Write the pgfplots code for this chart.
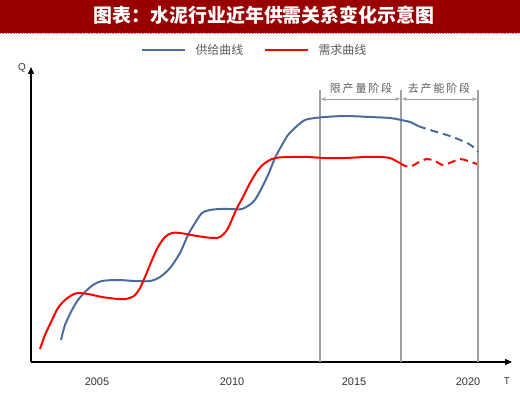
\documentclass[border=0pt]{standalone}
\usepackage{pgfplots}
\pgfplotsset{compat=1.18}
\usepackage{fontspec}
\setmainfont{Liberation Sans}
\newfontfamily\cjk{Noto Sans CJK SC}
\usetikzlibrary{arrows.meta}
\definecolor{banner}{RGB}{153,0,0}
\definecolor{supply}{RGB}{74,108,156}
\definecolor{demand}{RGB}{255,0,0}
\definecolor{vgrey}{RGB}{160,160,160}
\definecolor{txtgrey}{RGB}{90,90,90}
\begin{document}
\begin{tikzpicture}
\useasboundingbox (-31bp,-31bp) rectangle (489bp,362bp);
\begin{axis}[
  width=481bp, height=295bp, scale only axis,
  xmin=31, xmax=512, ymin=31, ymax=326,
  axis lines=left,
  axis line style={line width=1.4pt, -{Triangle[length=7bp,width=6bp]}},
  xtick={97,232,354,468},
  xticklabels={2005,2010,2015,2020},
  ytick=\empty,
  major tick length=0pt,
  /pgf/number format/assume math mode=true,
  xticklabel style={anchor=center, yshift=-20bp, font=\fontsize{11}{13}\selectfont, text=black!80},
  clip=false,
]
% banner
\fill[banner] (axis cs:0,393) rectangle (axis cs:520,360);
\draw[supply!70, densely dotted, line width=0.6pt] (axis cs:0,360) -- (axis cs:520,360);
\node[text=white, font=\cjk\bfseries\fontsize{19}{22}\selectfont] at (axis cs:264,378) {图表：水泥行业近年供需关系变化示意图};
% legend
\draw[supply, line width=2pt] (axis cs:142,343) -- (axis cs:185,343);
\node[anchor=west, text=txtgrey, font=\cjk\fontsize{12}{14}\selectfont] at (axis cs:192,343) {供给曲线};
\draw[demand, line width=2pt] (axis cs:265,343) -- (axis cs:308,343);
\node[anchor=west, text=txtgrey, font=\cjk\fontsize{12}{14}\selectfont] at (axis cs:315,343) {需求曲线};
% axis letters
\node[font=\fontsize{10}{12}\selectfont, text=black!80] at (axis cs:22,325) {Q};
\node[font=\fontsize{10}{12}\selectfont, text=black!80] at (axis cs:507,12) {T};
% phase lines
\draw[vgrey, line width=1.3pt] (axis cs:320,31) -- (axis cs:320,303);
\draw[vgrey, line width=1.3pt] (axis cs:401,31) -- (axis cs:401,303);
\draw[vgrey, line width=1.3pt] (axis cs:478,31) -- (axis cs:478,303);
\draw[vgrey, line width=0.9pt, {Stealth[length=5bp]}-{Stealth[length=5bp]}] (axis cs:321,294) -- (axis cs:400,294);
\draw[vgrey, line width=0.9pt, {Stealth[length=5bp]}-{Stealth[length=5bp]}] (axis cs:402,294) -- (axis cs:477,294);
\node[text=txtgrey, font=\cjk\fontsize{11}{13}\selectfont] at (axis cs:361,305) {限\,产\,量\,阶\,段};
\node[text=txtgrey, font=\cjk\fontsize{11}{13}\selectfont] at (axis cs:439,305) {去\,产\,能\,阶\,段};
% supply curve
\addplot[supply, line width=2pt, smooth, tension=0.5] coordinates {
(61,53) (65,68) (72,83) (78,93) (85,101) (93,108) (102,112) (118,113) (135,112) (150,112) (160,116) (170,125) (180,140) (188,158) (195,170) (202,180) (210,183) (220,184) (230,184) (242,184) (252,190) (258,198) (268,218) (275,235) (282,248) (288,258) (297,267) (305,273) (315,275) (325,276) (345,277) (370,276) (390,275) (401,273) (410,271) (418,267)
};
\addplot[supply, line width=2pt, smooth, tension=0.5, dash pattern=on 8bp off 5bp] coordinates {
(418,267) (430,263) (450,257) (465,251) (472,247) (478,241)
};
% demand curve
\addplot[demand, line width=2pt, smooth, tension=0.5] coordinates {
(40,44) (45,58) (52,73) (58,85) (65,93) (72,98) (78,100) (88,99) (102,96) (118,94) (126,94) (134,97) (140,105) (145,116) (152,133) (158,146) (165,156) (172,160) (180,160) (197,157) (213,155) (220,156) (227,163) (233,176) (237,185) (243,196) (250,210) (258,223) (265,230) (275,235) (292,236) (308,236) (325,235) (345,235) (365,236) (380,236) (390,235) (396,232) (400,230)
};
\addplot[demand, line width=2pt, smooth, tension=0.5, dash pattern=on 8bp off 5bp] coordinates {
(400,230) (405,227) (412,227) (419,231) (427,234) (435,232) (443,228) (452,231) (460,234) (468,232) (477,229)
};
\end{axis}
\end{tikzpicture}
\end{document}
